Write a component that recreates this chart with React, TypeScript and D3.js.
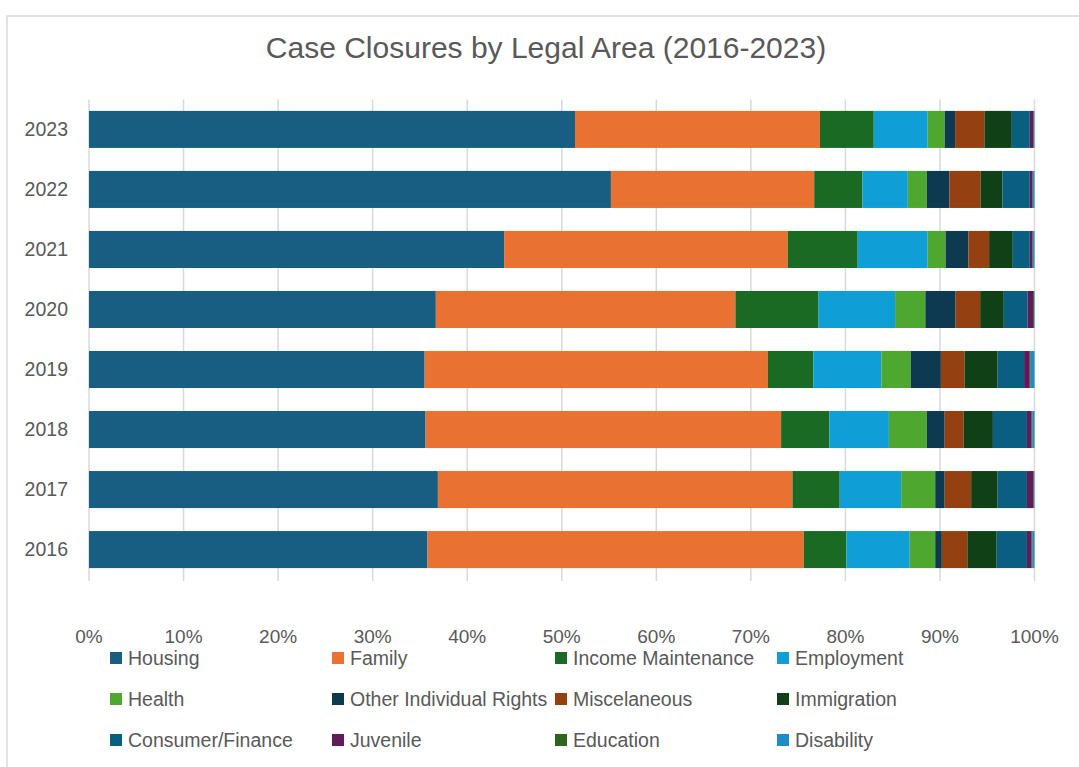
import React from "react";
import * as d3 from "d3";

const years = ["2016", "2017", "2018", "2019", "2020", "2021", "2022", "2023"];
const categories = [
  "Housing",
  "Family",
  "Income Maintenance",
  "Employment",
  "Health",
  "Other Individual Rights",
  "Miscelaneous",
  "Immigration",
  "Consumer/Finance",
  "Juvenile",
  "Education",
  "Disability",
];
const colors = [
  "#175E82",
  "#E97132",
  "#1B6A24",
  "#109ED6",
  "#4EA72F",
  "#0D3A50",
  "#954011",
  "#0F4016",
  "#0A5E80",
  "#611A5A",
  "#2F641F",
  "#1E8DC6",
];

// values per year 2016..2023 (percent of closures)
const housing = [35.8, 36.9, 35.6, 35.5, 36.7, 43.9, 55.2, 51.4];
const family = [39.8, 37.5, 37.6, 36.3, 31.7, 30.0, 21.5, 25.9];
const incomeMaintenance = [4.5, 5.0, 5.1, 4.8, 8.8, 7.4, 5.1, 5.7];
const employment = [6.7, 6.5, 6.3, 7.2, 8.1, 7.4, 4.8, 5.7];
const health = [2.7, 3.6, 4.0, 3.1, 3.2, 1.9, 2.0, 1.8];
const otherRights = [0.7, 1.0, 1.9, 3.2, 3.2, 2.4, 2.4, 1.1];
const miscelaneous = [2.7, 2.8, 2.0, 2.5, 2.6, 2.2, 3.3, 3.1];
const immigration = [3.1, 2.8, 3.1, 3.5, 2.5, 2.5, 2.3, 2.9];
const consumerFinance = [3.2, 3.1, 3.6, 2.8, 2.5, 1.8, 2.9, 1.9];
const juvenile = [0.5, 0.7, 0.5, 0.6, 0.6, 0.3, 0.3, 0.4];
const education = [0.1, 0.05, 0.1, 0.1, 0.1, 0.05, 0.05, 0.05];
const disability = [0.2, 0.05, 0.2, 0.4, 0.05, 0.15, 0.15, 0.05];

const seriesValues = [
  housing,
  family,
  incomeMaintenance,
  employment,
  health,
  otherRights,
  miscelaneous,
  immigration,
  consumerFinance,
  juvenile,
  education,
  disability,
];

const tickValues = [0, 0.1, 0.2, 0.3, 0.4, 0.5, 0.6, 0.7, 0.8, 0.9, 1.0];

const W = 1079;
const H = 767;
const FONT = "'Liberation Sans', Arial, sans-serif";
const TEXT = "#595959";

export default function App() {
  const rows = years.map((y, i) => {
    const r: any = { year: y };
    categories.forEach((c, k) => (r[c] = seriesValues[k][i]));
    return r;
  });
  const stacked = d3.stack<any>().keys(categories).offset(d3.stackOffsetExpand)(rows);

  const x = d3.scaleLinear().domain([0, 1]).range([89, 1034.5]);
  const yOrder = [...years].reverse();
  const y = d3
    .scaleBand<string>()
    .domain(yOrder)
    .range([99.5, 579.5])
    .paddingInner(0.383)
    .paddingOuter(0.19);

  const legendCols = [110, 332, 555, 777];
  const legendRows = [658, 699, 740];

  return (
    <div style={{ position: "absolute", left: 0, top: 0 }}>
      <svg width={W} height={H} style={{ display: "block", background: "#fff" }}>
        <rect x={7} y={16} width={W + 10} height={H + 10} fill="#fff" stroke="#D9D9D9" strokeWidth={1.5} />
        <text
          x={546}
          y={58}
          textAnchor="middle"
          fontFamily="'Liberation Sans Narrow', 'Liberation Sans', Arial, sans-serif"
          fontSize={30}
          fill={TEXT}
        >
          Case Closures by Legal Area (2016-2023)
        </text>
        {tickValues.map((t) => (
          <g key={t}>
            <line x1={x(t)} x2={x(t)} y1={99.5} y2={581} stroke="#D9D9D9" strokeWidth={1.5} />
            <text
              x={x(t)}
              y={643}
              textAnchor="middle"
              fontFamily={FONT}
              fontSize={19}
              fill={TEXT}
            >
              {d3.format(".0%")(t)}
            </text>
          </g>
        ))}
        {stacked.map((s, k) => (
          <g key={s.key} fill={colors[k]}>
            {s.map((d: any) => (
              <rect
                key={d.data.year}
                x={x(d[0])}
                width={Math.max(0, x(d[1]) - x(d[0]))}
                y={y(d.data.year)}
                height={y.bandwidth()}
              />
            ))}
          </g>
        ))}
        {yOrder.map((yr) => (
          <text
            key={yr}
            x={68}
            y={(y(yr) as number) + y.bandwidth() / 2}
            dy="0.35em"
            textAnchor="end"
            fontFamily={FONT}
            fontSize={19.5}
            fill={TEXT}
          >
            {yr}
          </text>
        ))}
        {categories.map((c, k) => {
          const col = k % 4;
          const row = Math.floor(k / 4);
          const lx = legendCols[col];
          const ly = legendRows[row];
          return (
            <g key={c}>
              <rect x={lx} y={ly - 6} width={12} height={12} fill={colors[k]} />
              <text x={lx + 18} y={ly} dy="0.35em" fontFamily={FONT} fontSize={19.5} fill={TEXT}>
                {c}
              </text>
            </g>
          );
        })}
      </svg>
    </div>
  );
}
